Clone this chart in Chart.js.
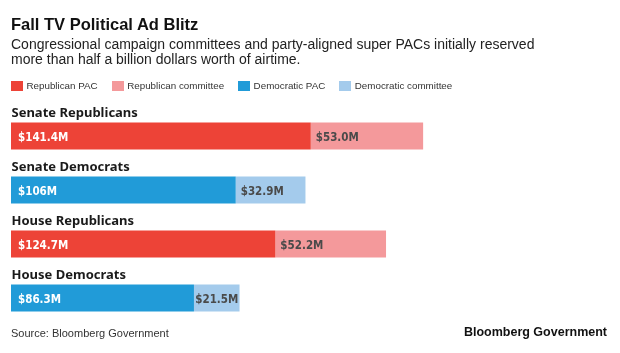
<!DOCTYPE html>
<html>
<head>
    <meta charset="utf-8">
    <title>Fall TV Political Ad Blitz</title>
    <script src="https://cdn.jsdelivr.net/npm/chart.js"></script>
    <style>
        body {
            margin: 0;
            background: #fff;
            font-family: "Liberation Sans", Arial, sans-serif;
        }
        .wrap {
            position: relative;
            width: 620px;
            height: 353px;
            overflow: hidden;
        }
        .wrap canvas {
            position: absolute;
            left: 0;
            top: 0;
        }
        .title {
            position: absolute;
            left: 11px;
            top: 14px;
            font-size: 16.5px;
            line-height: 20px;
            font-weight: bold;
            color: #111;
            white-space: nowrap;
        }
        .subtitle {
            position: absolute;
            left: 11px;
            top: 36.5px;
            font-size: 14px;
            line-height: 15.5px;
            color: #222;
            white-space: nowrap;
        }
        .legend {
            position: absolute;
            left: 11px;
            top: 79.5px;
            height: 12px;
            display: flex;
            align-items: center;
            font-size: 9.8px;
            color: #333;
            white-space: nowrap;
        }
        .legend .item {
            display: flex;
            align-items: center;
            margin-right: 14px;
        }
        .legend .box {
            width: 12px;
            height: 10px;
            margin-right: 3.5px;
        }
        .source {
            position: absolute;
            left: 11px;
            top: 327px;
            font-size: 11px;
            line-height: 13px;
            color: #333;
        }
        .brand {
            position: absolute;
            right: 13px;
            top: 325px;
            font-size: 12.5px;
            line-height: 15px;
            font-weight: bold;
            color: #111;
        }
    </style>
</head>
<body>
    <div class="wrap">
        <canvas id="myChart" width="620" height="353"></canvas>
        <div class="title">Fall TV Political Ad Blitz</div>
        <div class="subtitle">Congressional campaign committees and party-aligned super PACs initially reserved<br>more than half a billion dollars worth of airtime.</div>
        <div id="legend" class="legend"></div>
        <div class="source">Source: Bloomberg Government</div>
        <div class="brand">Bloomberg Government</div>
    </div>

    <script>
        // 數據
        const categories = ['Senate Republicans', 'Senate Democrats', 'House Republicans', 'House Democrats'];
        const seriesNames = ['Republican PAC', 'Republican committee', 'Democratic PAC', 'Democratic committee'];
        const repPac = [141.4, null, 124.7, null];
        const repCommittee = [53.0, null, 52.2, null];
        const demPac = [null, 106, null, 86.3];
        const demCommittee = [null, 32.9, null, 21.5];
        const repPacText = ['$141.4M', '', '$124.7M', ''];
        const repCommitteeText = ['$53.0M', '', '$52.2M', ''];
        const demPacText = ['', '$106M', '', '$86.3M'];
        const demCommitteeText = ['', '$32.9M', '', '$21.5M'];

        const colors = ['#ed4337', '#f4999b', '#219bd8', '#a4cbec'];
        const textColors = ['#ffffff', '#4a4a4a', '#ffffff', '#4a4a4a'];
        const seriesValues = [repPac, repCommittee, demPac, demCommittee];
        const seriesTexts = [repPacText, repCommitteeText, demPacText, demCommitteeText];

        const valueFont = "bold 11.5px 'DejaVu Sans Condensed', 'Liberation Sans Narrow', 'DejaVu Sans', sans-serif";
        const categoryFont = "bold 13px 'Noto Sans', Lato, sans-serif";

        // 類別名稱和數值標籤
        const labelPlugin = {
            id: 'barLabels',
            afterDatasetsDraw(chart) {
                const ctx = chart.ctx;
                ctx.save();
                ctx.textAlign = 'left';
                ctx.textBaseline = 'alphabetic';

                // 類別名稱 (在每條長條上方)
                const yScale = chart.scales.y;
                const half = chart.getDatasetMeta(0).data[0].height / 2;
                ctx.font = categoryFont;
                ctx.fillStyle = '#1a1a1a';
                categories.forEach((name, i) => {
                    const yc = yScale.getPixelForValue(i);
                    ctx.fillText(name, chart.chartArea.left + 0.5, yc - half - 6);
                });

                // 數值標籤
                ctx.font = valueFont;
                chart.data.datasets.forEach((ds, di) => {
                    const meta = chart.getDatasetMeta(di);
                    meta.data.forEach((bar, i) => {
                        if (ds.data[i] == null) return;
                        const p = bar.getProps(['x', 'y', 'base'], true);
                        const text = seriesTexts[di][i];
                        const w = ctx.measureText(text).width;
                        const segW = p.x - p.base;
                        let off = (di % 2 === 0) ? 7 : Math.min(5, (segW - w) / 2);
                        ctx.fillStyle = textColors[di];
                        ctx.fillText(text, p.base + off, p.y + 4.5);
                    });
                });
                ctx.restore();
            }
        };

        const ctx = document.getElementById('myChart').getContext('2d');
        const myChart = new Chart(ctx, {
            type: 'bar',
            data: {
                labels: categories,
                datasets: seriesNames.map((name, i) => ({
                    label: name,
                    data: seriesValues[i],
                    backgroundColor: colors[i],
                    borderWidth: 0,
                    categoryPercentage: 1,
                    barPercentage: 0.5
                }))
            },
            options: {
                indexAxis: 'y',
                responsive: false,
                animation: false,
                devicePixelRatio: 1,
                layout: {
                    padding: { top: 109, bottom: 28, left: 11, right: 79 }
                },
                scales: {
                    x: { stacked: true, min: 0, max: 250, display: false },
                    y: { stacked: true, display: false }
                },
                plugins: {
                    legend: { display: false },
                    tooltip: { enabled: false }
                }
            },
            plugins: [labelPlugin]
        });

        // 圖例 (由數據集生成)
        const legendEl = document.getElementById('legend');
        myChart.data.datasets.forEach(ds => {
            const item = document.createElement('div');
            item.className = 'item';
            const box = document.createElement('span');
            box.className = 'box';
            box.style.background = ds.backgroundColor;
            const label = document.createElement('span');
            label.textContent = ds.label;
            item.appendChild(box);
            item.appendChild(label);
            legendEl.appendChild(item);
        });
    </script>
</body>
</html>
